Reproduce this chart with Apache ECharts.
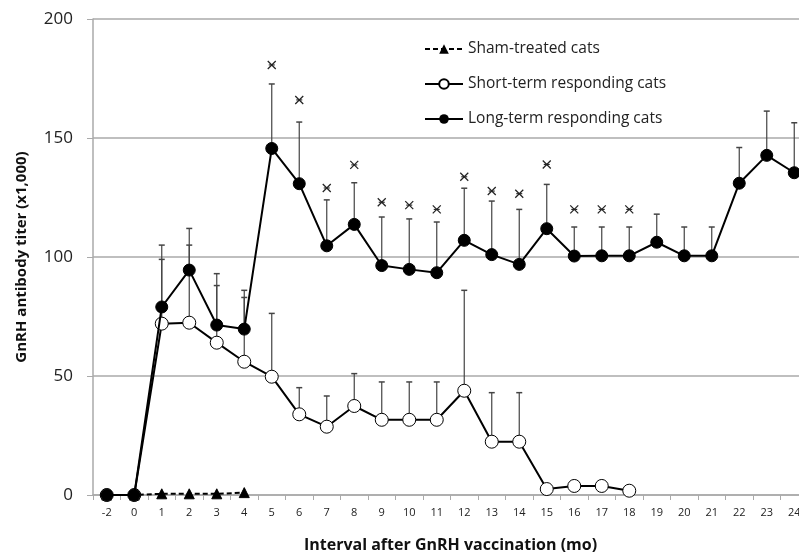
<!DOCTYPE html>
<html><head><meta charset="utf-8">
<script src="https://cdn.jsdelivr.net/npm/echarts@6/dist/echarts.min.js"></script>
<style>html,body{margin:0;padding:0;background:#fff;overflow:hidden}#c{width:808px;height:558px}</style>
</head><body><div id="c"></div>
<script>
var categories = ['-2','0','1','2','3','4','5','6','7','8','9','10','11','12','13','14','15','16','17','18','19','20','21','22','23','24'];
var shamValues = [0,0,0.5,0.5,0.5,1];
var shortValues = [0,0,72,72.4,64,56,49.7,33.9,28.7,37.4,31.6,31.6,31.6,43.8,22.4,22.4,2.5,3.8,3.8,1.8];
var shortErrTop = [null,null,99,105,88,83,76.3,45.1,41.6,51,47.5,47.5,47.5,86,43,43,null,null,null,null];
var longValues = [0,0,79,94.5,71.4,69.7,145.6,130.8,104.7,113.7,96.4,94.8,93.4,107,101,96.9,111.9,100.4,100.5,100.5,106.2,100.5,100.5,131,142.7,135.4];
var longErrTop = [null,null,105,112,93,86,172.7,156.7,124,131.2,116.8,116,114.7,128.9,123.5,120,130.5,112.6,112.6,112.6,118,112.6,112.6,146,161.3,156.4];
var sigMarks = [null,null,null,null,null,null,180.7,166,129,138.7,123,121.8,120,133.7,127.7,126.6,138.9,120,120,120,null,null,null,null,null,null];
var yTicks = [0,50,100,150,200];

function errData(vals, tops){
  var d=[];
  for(var i=0;i<vals.length;i++){ if(tops[i]!=null) d.push([i, vals[i], tops[i]]); }
  return d;
}
function sigData(){
  var d=[];
  for(var i=0;i<sigMarks.length;i++){ if(sigMarks[i]!=null) d.push([i, sigMarks[i]]); }
  return d;
}
function renderErr(params, api){
  var lo = api.coord([api.value(0), api.value(1)]);
  var hi = api.coord([api.value(0), api.value(2)]);
  var w = 3;
  return {type:'group', children:[
    {type:'line', shape:{x1:lo[0],y1:lo[1],x2:hi[0],y2:hi[1]}, style:{stroke:'#444',lineWidth:1.2}},
    {type:'line', shape:{x1:hi[0]-w,y1:hi[1],x2:hi[0]+w,y2:hi[1]}, style:{stroke:'#444',lineWidth:1.5}}
  ]};
}
function renderSig(params, api){
  var p = api.coord([api.value(0), api.value(1)]);
  var s = 4;
  return {type:'group', children:[
    {type:'line', shape:{x1:p[0]-s,y1:p[1]-s,x2:p[0]+s,y2:p[1]+s}, style:{stroke:'#222',lineWidth:1.3}},
    {type:'line', shape:{x1:p[0]-s,y1:p[1]+s,x2:p[0]+s,y2:p[1]-s}, style:{stroke:'#222',lineWidth:1.3}},
    {type:'line', shape:{x1:p[0]-s+1,y1:p[1],x2:p[0]+s-1,y2:p[1]}, style:{stroke:'#222',lineWidth:1.1}}
  ]};
}
var chart = echarts.init(document.getElementById('c'));
chart.setOption({
  animation:false,
  backgroundColor:'#fff',
  textStyle:{fontFamily:'Open Sans'},
  grid:{left:93, top:19, right:0, bottom:63, containLabel:false},
  legend:{
    orient:'vertical', left:419, top:36, itemGap:19, itemWidth:38, itemHeight:12,
    textStyle:{fontSize:15.5, color:'#222', fontFamily:'Open Sans'},
    data:['Sham-treated cats','Short-term responding cats','Long-term responding cats']
  },
  xAxis:{
    type:'category', data:categories, boundaryGap:true,
    name:'Interval after GnRH vaccination (mo)', nameLocation:'middle', nameGap:42,
    nameTextStyle:{fontSize:16, fontWeight:'bold', color:'#111', padding:[0,0,0,0]},
    axisLine:{lineStyle:{color:'#aaa', width:1.5}},
    axisTick:{show:true, alignWithLabel:false, length:5, lineStyle:{color:'#aaa'}},
    axisLabel:{fontSize:11, color:'#222', margin:12, interval:0},
    splitLine:{show:false}
  },
  yAxis:{
    type:'value', min:0, max:200, interval:50,
    name:'GnRH antibody titer (x1,000)', nameLocation:'middle', nameGap:64, nameRotate:90,
    nameTextStyle:{fontSize:15, fontWeight:'bold', color:'#111'},
    axisLine:{show:true, lineStyle:{color:'#aaa', width:1.5}},
    axisTick:{show:true, length:6, lineStyle:{color:'#aaa'}},
    axisLabel:{fontSize:17, color:'#222', margin:20},
    splitLine:{lineStyle:{color:'#aaa', width:1.5}}
  },
  series:[
    {type:'custom', name:'errShort', renderItem:renderErr, data:errData(shortValues, shortErrTop), z:1, silent:true},
    {type:'custom', name:'errLong', renderItem:renderErr, data:errData(longValues, longErrTop), z:1, silent:true},
    {type:'custom', name:'sig', renderItem:renderSig, data:sigData(), z:1, silent:true},
    {type:'line', name:'Sham-treated cats', data:shamValues, z:3,
      symbol:'triangle', symbolSize:10, showAllSymbol:true,
      lineStyle:{color:'#000', width:2, type:[5,3]},
      itemStyle:{color:'#000', borderColor:'#000'}},
    {type:'line', name:'Short-term responding cats', data:shortValues, z:4,
      symbol:'circle', symbolSize:13, showAllSymbol:true,
      lineStyle:{color:'#000', width:2},
      itemStyle:{color:'#fff', borderColor:'#000', borderWidth:1}},
    {type:'line', name:'Long-term responding cats', data:longValues, z:5,
      symbol:'circle', symbolSize:12, showAllSymbol:true,
      lineStyle:{color:'#000', width:2},
      itemStyle:{color:'#000', borderColor:'#000'}}
  ]
});
</script></body></html>
